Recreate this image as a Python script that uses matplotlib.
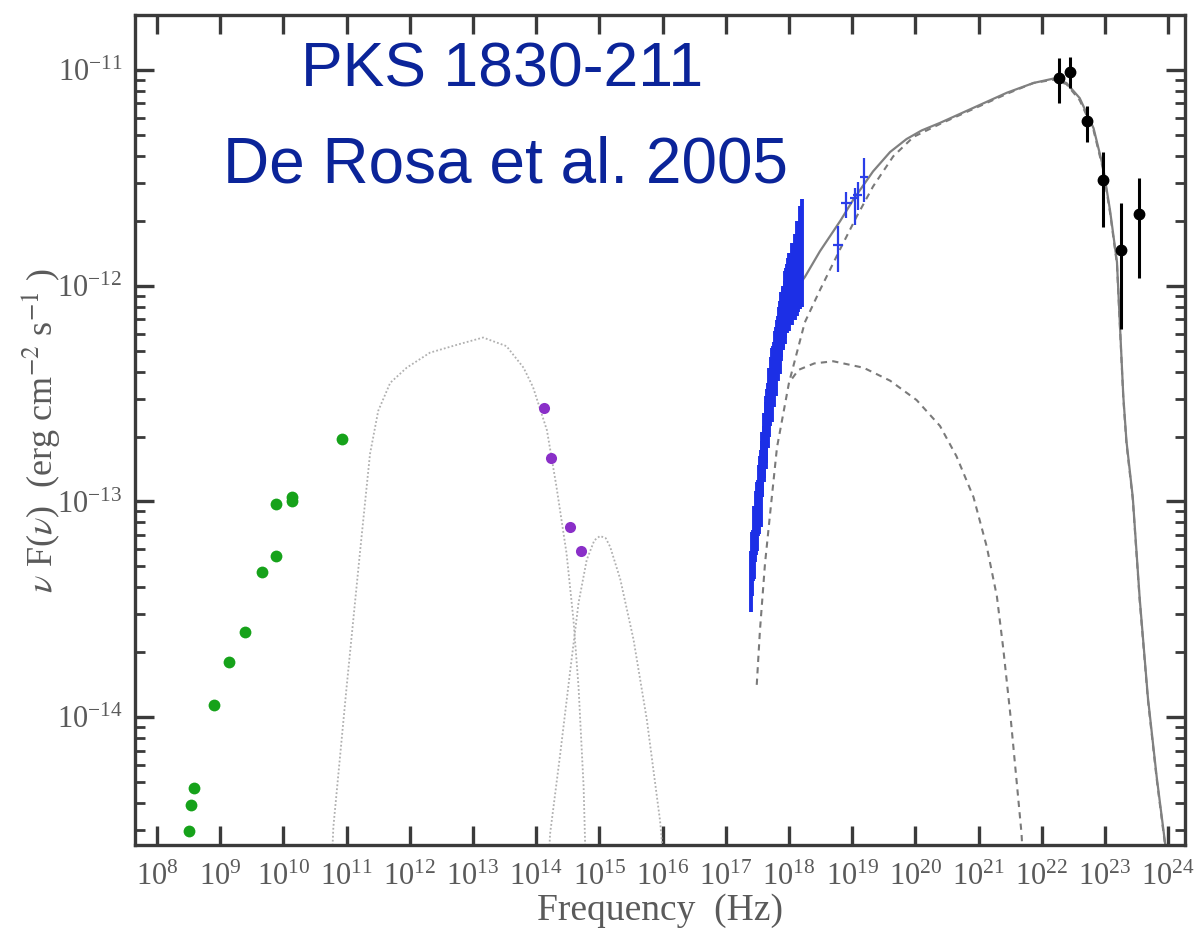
"""SED of PKS 1830-211 (after De Rosa et al. 2005)."""

import numpy as np
import matplotlib
matplotlib.use('Agg')
import matplotlib.pyplot as plt
from matplotlib.ticker import FixedLocator, NullLocator, LogFormatterSciNotation


# radio points (log10 nu [Hz], log10 nuFnu [erg cm^-2 s^-1])
radio_lognu = [8.50, 8.53, 8.59, 8.90, 9.14, 9.39, 9.66, 9.89, 9.89, 10.13, 10.13, 10.92]
radio_logf = [-14.527, -14.408, -14.327, -13.944, -13.745, -13.604, -13.327,
              -13.253, -13.013, -12.998, -12.978, -12.712]

# IR / optical points
opt_lognu = [14.13, 14.23, 14.54, 14.71]
opt_logf = [-12.568, -12.797, -13.117, -13.230]

# X-ray spectrum (binned), with error in dex
xray_lognu = [17.40, 17.42, 17.43, 17.45, 17.46, 17.48, 17.49, 17.51, 17.52, 17.54,
              17.55, 17.57, 17.58, 17.60, 17.61, 17.63, 17.64, 17.66, 17.67, 17.69,
              17.70, 17.72, 17.73, 17.75, 17.76, 17.78, 17.79, 17.81, 17.82, 17.84,
              17.85, 17.87, 17.88, 17.90, 17.91, 17.93, 17.94, 17.96, 17.97, 17.99,
              18.00, 18.02, 18.04, 18.06, 18.09, 18.12, 18.15, 18.18, 18.21]
xray_logf = [-13.37, -13.29, -13.25, -13.19, -13.16, -13.10, -13.07, -13.03, -12.99, -12.93,
             -12.94, -12.85, -12.83, -12.77, -12.75, -12.68, -12.68, -12.61, -12.60, -12.54,
             -12.53, -12.47, -12.46, -12.41, -12.41, -12.35, -12.35, -12.29, -12.29, -12.24,
             -12.24, -12.20, -12.19, -12.15, -12.15, -12.11, -12.10, -12.06, -12.06, -12.02,
             -12.03, -11.99, -11.99, -11.96, -11.96, -11.92, -11.91, -11.87, -11.85]
xray_err = [0.14, 0.15, 0.12, 0.17, 0.12, 0.15, 0.16, 0.13, 0.16, 0.14,
            0.18, 0.13, 0.15, 0.12, 0.16, 0.14, 0.17, 0.13, 0.15, 0.16,
            0.12, 0.14, 0.17, 0.13, 0.15, 0.14, 0.16, 0.13, 0.15, 0.14,
            0.17, 0.13, 0.16, 0.14, 0.15, 0.13, 0.17, 0.14, 0.16, 0.15,
            0.18, 0.14, 0.19, 0.16, 0.20, 0.22, 0.21, 0.24, 0.25]

# hard X-ray points
hx_lognu = [18.78, 18.91, 19.04, 19.09, 19.19]
hx_logf = [-11.811, -11.618, -11.595, -11.580, -11.495]
hx_lo = [-11.937, -11.686, -11.719, -11.650, -11.611]
hx_hi = [-11.722, -11.564, -11.547, -11.520, -11.408]
hx_dnu = [0.08, 0.08, 0.07, 0.07, 0.06]

# gamma-ray points
gam_lognu = [22.28, 22.45, 22.71, 22.97, 23.25, 23.54]
gam_logf = [-11.038, -11.008, -11.235, -11.510, -11.834, -11.669]
gam_lo = [-11.153, -11.083, -11.332, -11.726, -12.200, -11.966]
gam_hi = [-10.944, -10.940, -11.167, -11.379, -11.615, -11.502]

# model components
sync_lognu = [10.77, 10.79, 11.00, 11.21, 11.37, 11.50, 11.69, 11.95, 12.32, 12.79, 13.16,
              13.53, 13.80, 13.95, 14.17, 14.32, 14.48, 14.59, 14.67, 14.75, 14.78]
sync_logf = [-14.65, -14.51, -13.86, -13.24, -12.78, -12.58, -12.45, -12.38, -12.31, -12.27,
             -12.24, -12.28, -12.38, -12.47, -12.67, -12.93, -13.24, -13.55, -13.86, -14.32, -14.65]

disk_lognu = [14.20, 14.22, 14.38, 14.54, 14.67, 14.80, 14.92, 15.01, 15.10, 15.17, 15.33,
              15.54, 15.75, 15.96, 16.01]
disk_logf = [-14.65, -14.54, -14.17, -13.78, -13.47, -13.27, -13.18, -13.16, -13.17, -13.21,
             -13.36, -13.64, -14.01, -14.48, -14.65]

ssc_lognu = [18.05, 18.15, 18.40, 18.70, 19.18, 19.60, 20.02, 20.39, 20.65, 20.92, 21.13,
             21.29, 21.39, 21.50, 21.60, 21.68, 21.70]
ssc_logf = [-12.43, -12.39, -12.36, -12.35, -12.38, -12.44, -12.53, -12.65, -12.79, -12.98,
            -13.21, -13.44, -13.68, -13.98, -14.29, -14.54, -14.65]

ec_lognu = [17.49, 17.54, 17.62, 17.70, 17.81, 18.00, 18.25, 18.49, 18.81, 19.07, 19.33, 19.65,
            19.97, 20.39, 20.92, 21.45, 21.87, 22.18, 22.39, 22.60, 22.82, 22.97, 23.08,
            23.19, 23.24, 23.29, 23.34, 23.44, 23.55, 23.68, 23.82, 23.95, 23.98]
ec_logf = [-13.85, -13.60, -13.29, -13.06, -12.75, -12.45, -12.17, -12.02, -11.83, -11.68,
           -11.54, -11.40, -11.31, -11.25, -11.18, -11.11, -11.06, -11.045, -11.065, -11.14,
           -11.28, -11.46, -11.66, -11.90, -12.21, -12.52, -12.73, -12.99, -13.46, -13.92,
           -14.29, -14.59, -14.65]

tot_lognu = [18.10, 18.25, 18.49, 18.81, 19.02, 19.33, 19.60, 19.86, 20.10, 20.39, 20.92,
             21.45, 21.87, 22.18, 22.39, 22.60, 22.82, 22.97, 23.08, 23.19, 23.24, 23.29,
             23.34, 23.44, 23.55, 23.68, 23.82, 23.95, 23.98]
tot_logf = [-12.02, -11.96, -11.84, -11.70, -11.60, -11.47, -11.38, -11.32, -11.28, -11.245,
            -11.175, -11.105, -11.06, -11.04, -11.06, -11.13, -11.27, -11.45, -11.65, -11.89,
            -12.20, -12.51, -12.72, -12.98, -13.45, -13.91, -14.28, -14.58, -14.65]

x_decades = list(range(8, 25))
y_decades = [-14, -13, -12, -11]


def p(a):
    return np.power(10.0, np.asarray(a, dtype=float))


plt.rcParams['font.family'] = ['Liberation Serif', 'DejaVu Serif']
plt.rcParams['mathtext.fontset'] = 'stix'

fig = plt.figure(figsize=(11.95, 9.38), dpi=100, facecolor='white')
ax = fig.add_axes([0.113, 0.099, 0.8786, 0.885])
ax.set_xscale('log')
ax.set_yscale('log')
ax.set_xlim(10 ** 7.652, 10 ** 24.266)
ax.set_ylim(10 ** -14.593, 10 ** -10.745)

# models
ax.plot(p(sync_lognu), p(sync_logf), color='#b0b0b0', ls=(0, (1, 1.2)), lw=1.3)
ax.plot(p(disk_lognu), p(disk_logf), color='#b0b0b0', ls=(0, (1, 1.2)), lw=1.3)
ax.plot(p(ssc_lognu), p(ssc_logf), color='#7a7a7a', ls=(0, (3, 2.5)), lw=1.5)
ax.plot(p(ec_lognu), p(ec_logf), color='#7a7a7a', ls=(0, (3, 2.5)), lw=1.5)
ax.plot(p(tot_lognu), p(tot_logf), color='#808080', ls='-', lw=1.6)

# X-ray spectrum
xf = p(xray_logf)
xe = np.asarray(xray_err)
xn = p(xray_lognu)
ax.errorbar(xn, xf, yerr=[xf * (1 - 10 ** -xe), xf * (10 ** xe - 1)],
            xerr=[xn * (1 - 10 ** -0.014), xn * (10 ** 0.014 - 1)],
            fmt='none', ecolor='#1c2fe6', elinewidth=2.8, capsize=0)

hn = p(hx_lognu)
hf = p(hx_logf)
hd = np.asarray(hx_dnu)
ax.errorbar(hn, hf, yerr=[hf - p(hx_lo), p(hx_hi) - hf],
            xerr=[hn * (1 - 10 ** -hd), hn * (10 ** hd - 1)],
            fmt='none', ecolor='#2a3ee8', elinewidth=1.6, capsize=0)

gf = p(gam_logf)
ax.errorbar(p(gam_lognu), gf, yerr=[gf - p(gam_lo), p(gam_hi) - gf],
            fmt='o', color='black', ms=7.5, elinewidth=2.2, capsize=0)

ax.plot(p(radio_lognu), p(radio_logf), 'o', color='#16a21a', ms=8.5, mec='none')
ax.plot(p(opt_lognu), p(opt_logf), 'o', color='#8a2fc8', ms=8.0, mec='none')

# axes styling
for s in ax.spines.values():
    s.set_linewidth(2.4)
    s.set_color('#3a3a3a')
ax.xaxis.set_major_locator(FixedLocator(p(x_decades)))
ax.xaxis.set_major_formatter(LogFormatterSciNotation())
ax.xaxis.set_minor_locator(NullLocator())
ax.yaxis.set_major_locator(FixedLocator(p(y_decades)))
ax.yaxis.set_major_formatter(LogFormatterSciNotation())
y_minor = [m * 10.0 ** d for d in [-15, -14, -13, -12, -11] for m in range(2, 10)
           if -14.593 < np.log10(m * 10.0 ** d) < -10.745]
ax.yaxis.set_minor_locator(FixedLocator(y_minor))
ax.tick_params(which='both', direction='in', top=True, right=True, color='#3a3a3a',
               labelcolor='#5a5a5a', labelsize=22)
ax.tick_params(which='major', length=14, width=2.4, pad=9)
ax.tick_params(axis='x', which='major', pad=13)
ax.tick_params(which='minor', length=7, width=2.0)

ax.set_xlabel('Frequency  (Hz)', fontsize=27, color='#5a5a5a', labelpad=1)
ax.set_ylabel(r'$\nu$ F($\nu$)  (erg cm$^{-2}$ s$^{-1}$ )', fontsize=26,
              color='#5a5a5a', labelpad=-4)

fig.text(0.42, 0.925, 'PKS 1830-211', fontsize=45, color='#0b2499',
         family='Liberation Sans', ha='center', va='center')
fig.text(0.423, 0.824, 'De Rosa et al. 2005', fontsize=46, color='#0b2499',
         family='Liberation Sans', ha='center', va='center')

fig.savefig('out.png', dpi=100, facecolor='white')
